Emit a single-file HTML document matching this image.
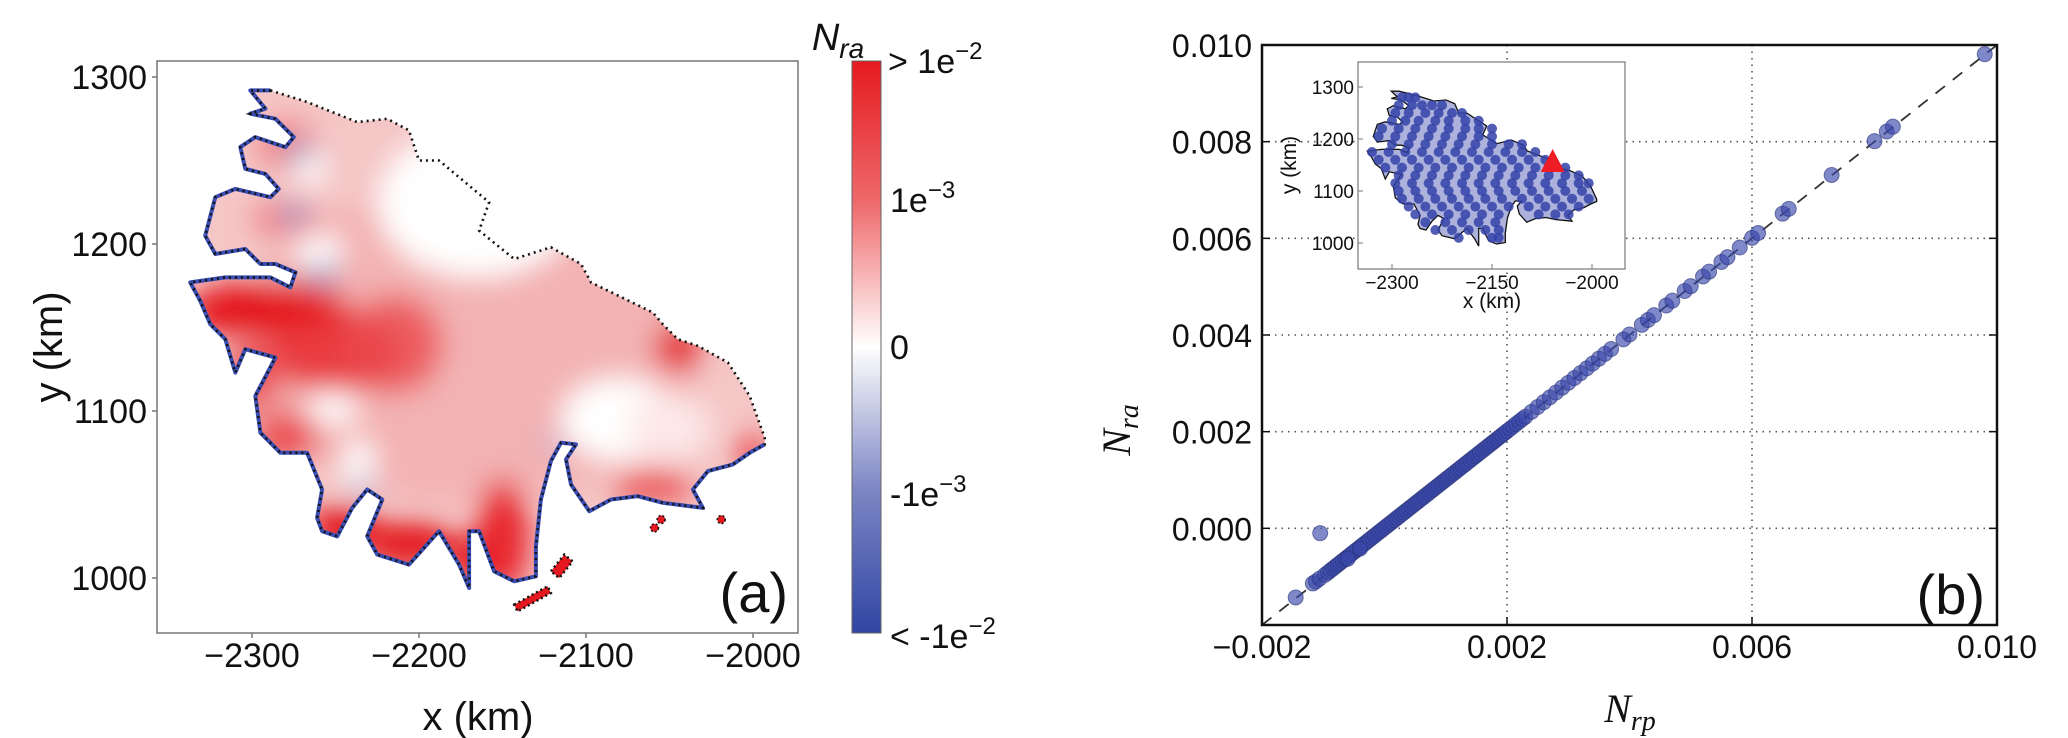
<!DOCTYPE html>
<html><head><meta charset="utf-8"><title>N_ra map and scatter</title>
<style>
html,body{margin:0;padding:0;background:#fff;}
svg{display:block;font-family:"Liberation Sans","DejaVu Sans",sans-serif;}
.tk{font-size:34px;fill:#111;}
.tr{font-size:32px;fill:#111;}
.ti{font-size:19px;fill:#111;}
</style></head>
<body>
<svg id="fig" width="2068" height="738" viewBox="0 0 2068 738" xmlns="http://www.w3.org/2000/svg">
<defs>
 <linearGradient id="cbg" x1="0" y1="0" x2="0" y2="1">
  <stop offset="0" stop-color="#e41a1f"/>
  <stop offset="0.25" stop-color="#ef6b6d"/>
  <stop offset="0.5" stop-color="#ffffff"/>
  <stop offset="0.75" stop-color="#7c86c4"/>
  <stop offset="1" stop-color="#3145a3"/>
 </linearGradient>
 <filter id="blur" x="-50%" y="-50%" width="200%" height="200%"><feGaussianBlur stdDeviation="14"/></filter>
 <clipPath id="mapclip"><polygon id="clipPoly"/></clipPath>
</defs>

<g id="panelA">
 <rect x="157" y="61" width="641" height="572" fill="#fff" stroke="#777" stroke-width="1.5"/>
 <g id="mapFill" clip-path="url(#mapclip)"></g>
 <g id="mapCoast"></g>
 <g id="mapTicks"></g>
 <text x="478" y="730" font-size="40" text-anchor="middle" fill="#111">x (km)</text>
 <text transform="translate(62,347) rotate(-90)" font-size="40" text-anchor="middle" fill="#111">y (km)</text>
 <text x="788" y="612" font-size="56" text-anchor="end" fill="#111">(a)</text>
</g>

<g id="colorbar">
 <rect x="852" y="61" width="29" height="572" fill="url(#cbg)" stroke="#666" stroke-width="1"/>
 <text x="838" y="50" font-size="38" font-style="italic" fill="#111" text-anchor="middle">N<tspan font-size="28" dy="8">ra</tspan></text>
 <text x="888" y="73" font-size="34" fill="#111">&gt; 1e<tspan font-size="24" dy="-14">−2</tspan></text>
 <text x="890" y="212" font-size="34" fill="#111">1e<tspan font-size="24" dy="-14">−3</tspan></text>
 <text x="890" y="359" font-size="34" fill="#111">0</text>
 <text x="890" y="506" font-size="34" fill="#111">-1e<tspan font-size="24" dy="-14">−3</tspan></text>
 <text x="890" y="648" font-size="34" fill="#111">&lt; -1e<tspan font-size="24" dy="-14">−2</tspan></text>
</g>

<g id="panelB">
 <rect x="1262" y="45" width="735" height="580" fill="#fff"/>
 <g id="grid"></g>
 <g id="diag"></g>
 <g id="dots"></g>
 <rect x="1262" y="45" width="735" height="580" fill="none" stroke="#111" stroke-width="2.5"/>
 <g id="ticksB"></g>
 <text transform="translate(1130,430) rotate(-90)" font-family="Liberation Serif, serif" font-style="italic" font-size="40" text-anchor="middle" fill="#111">N<tspan font-size="28" dy="8">ra</tspan></text>
 <text x="1630" y="722" font-family="Liberation Serif, serif" font-style="italic" font-size="40" text-anchor="middle" fill="#111">N<tspan font-size="28" dy="8">rp</tspan></text>
 <text x="1985" y="614" font-size="56" text-anchor="end" fill="#111">(b)</text>
 <g id="inset">
  <rect x="1358" y="62" width="267" height="207" fill="#fff" stroke="#777" stroke-width="1.2"/>
  <g id="insetFill"></g>
  <g id="insetDots"></g>
  <g id="insetTicks"></g>
  <text x="1492" y="308" font-size="21" text-anchor="middle" fill="#111">x (km)</text>
  <text transform="translate(1296,165) rotate(-90)" font-size="21" text-anchor="middle" fill="#111">y (km)</text>
 </g>
</g>
</svg>
<script>
const mapXTicks = [-2300, -2200, -2100, -2000];
const mapYTicks = [1300, 1200, 1100, 1000];
const outline = [[-2289,1292],[-2267,1285],[-2237,1273],[-2219,1275],[-2206,1268],[-2200,1250],[-2188,1250],[-2158,1225],[-2164,1208],[-2143,1191],[-2121,1198],[-2103,1188],[-2097,1177],[-2060,1159],[-2054,1152],[-2045,1143],[-2033,1139],[-2015,1129],[-2002,1109],[-1993,1084],
[-1993,1080],[-2002,1075],[-2012,1068],[-2027,1064],[-2036,1053],[-2030,1042],[-2054,1045],[-2069,1049],[-2085,1047],[-2098,1040],[-2109,1056],[-2112,1071],[-2106,1080],[-2115,1081],[-2121,1070],[-2127,1047],[-2130,1019],[-2130,1001],[-2143,998],[-2155,1004],[-2164,1028],[-2170,1028],[-2170,994],[-2176,1008],[-2188,1028],[-2206,1008],[-2225,1014],[-2231,1025],[-2222,1047],[-2231,1053],[-2240,1042],[-2249,1025],[-2258,1028],[-2261,1036],[-2258,1053],[-2267,1075],[-2283,1075],[-2295,1087],[-2298,1109],[-2286,1132],[-2304,1137],[-2310,1123],[-2316,1143],[-2325,1152],[-2331,1166],[-2337,1177],[-2316,1180],[-2289,1180],[-2277,1174],[-2274,1183],[-2286,1188],[-2295,1188],[-2304,1197],[-2322,1194],[-2328,1205],[-2322,1228],[-2310,1233],[-2289,1228],[-2284,1233],[-2292,1242],[-2304,1245],[-2307,1258],[-2298,1264],[-2280,1258],[-2275,1264],[-2286,1275],[-2301,1278],[-2292,1281],[-2301,1292]];
const coastStart = 20;
const islands = [[[-2143,984],[-2123,995],[-2121,991],[-2141,980]],[[-2121,1004],[-2113,1014],[-2108,1010],[-2116,1000]]];
const redIslets = [[-2059,1030],[-2019,1035],[-2055,1035]];
const blobs = [
 [-2170,1140,140,95,'#f3b2b3',1],
 [-2290,1160,50,18,'#e4181e',1],[-2250,1135,40,25,'#e83035',0.9],[-2215,1140,30,30,'#ea4a4d',0.8],
 [-2300,1120,15,20,'#e83035',0.8],[-2280,1085,20,15,'#e83035',0.8],
 [-2245,1030,22,14,'#e4181e',1],[-2205,1020,28,14,'#e4181e',1],[-2150,1025,16,35,'#e8282d',1],[-2170,1010,10,15,'#e4181e',1],
 [-2045,1138,14,14,'#e4181e',1],[-2060,1055,25,10,'#ea4a4d',0.9],[-2000,1075,12,10,'#e83035',0.8],
 [-2280,1260,18,15,'#f08a8c',1],[-2280,1215,20,12,'#ef7f81',0.9],
 [-2165,1225,60,45,'#ffffff',1],[-2080,1095,35,25,'#ffffff',1],[-2050,1090,25,20,'#fde8e8',1],[-2252,1102,16,10,'#ffffff',1],[-2236,1066,10,18,'#ffffff',1],[-2260,1195,15,10,'#ffffff',1],[-2265,1245,10,10,'#ffffff',1],
 [-2272,1255,8,6,'#8f98cc',1],[-2275,1218,8,7,'#9aa2d0',1],[-2258,1182,10,5,'#7b86c4',1],[-2234,1055,5,6,'#8f98cc',1],[-2120,1081,6,4,'#aab1d8',1]
];
const nrp = [-0.00145,-0.00117,-0.00112,-0.00106,-0.00097,-0.00092,-0.00088,-0.00084,-0.0008,-0.00076,-0.00072,-0.00068,-0.00064,-0.0006,-0.00056,-0.00052,-0.00048,-0.00044,-0.0004,-0.00036,-0.00032,-0.00028,-0.00024,-0.0002,-0.00016,-0.00012,-0.00008,-0.00004,0.0,0.00004,0.00008,0.00012,0.00016,0.0002,0.00024,0.00028,0.00032,0.00036,0.0004,0.00044,0.00048,0.00052,0.00056,0.0006,0.00064,0.00068,0.00072,0.00076,0.0008,0.00084,0.00088,0.00092,0.00096,0.001,0.00104,0.00108,0.00112,0.00116,0.0012,0.00124,0.00128,0.00132,0.00136,0.0014,0.00144,0.00148,0.00152,0.00156,0.0016,0.00164,0.00168,0.00172,0.00176,0.0018,0.00184,0.00188,0.00192,0.00196,0.002,0.00205,0.0021,0.00215,0.0022,0.00225,0.0023,0.0024,0.0025,0.0026,0.0027,0.0028,0.0029,0.003,0.0031,0.0032,0.0033,0.0034,0.0035,0.0036,0.0037,0.0039,0.0040,0.0042,0.0043,0.0044,0.0046,0.0047,0.0049,0.0050,0.0052,0.0053,0.0055,0.0056,0.0058,0.0060,0.0061,0.0065,0.0066,0.0073,0.0080,0.0082,0.0083,0.0098,-0.00105,-0.0006,-0.0004];
const nra = [-0.00143,-0.00114,-0.00110,-0.00104,-0.00096,-0.00091,-0.00087,-0.00083,-0.00079,-0.00075,-0.00071,-0.00067,-0.00063,-0.00059,-0.00055,-0.00051,-0.00047,-0.00043,-0.00039,-0.00035,-0.00031,-0.00027,-0.00023,-0.00019,-0.00015,-0.00011,-0.00007,-0.00003,0.00001,0.00005,0.00009,0.00013,0.00017,0.00021,0.00025,0.00029,0.00033,0.00037,0.00041,0.00045,0.00049,0.00053,0.00057,0.00061,0.00065,0.00069,0.00073,0.00077,0.00081,0.00085,0.00089,0.00093,0.00097,0.00101,0.00105,0.00109,0.00113,0.00117,0.00121,0.00125,0.00129,0.00133,0.00137,0.00141,0.00145,0.00149,0.00153,0.00157,0.00161,0.00165,0.00169,0.00173,0.00177,0.00181,0.00185,0.00189,0.00193,0.00197,0.00201,0.00206,0.00211,0.00216,0.00221,0.00226,0.00231,0.00241,0.00251,0.00261,0.00271,0.00281,0.00291,0.00301,0.00311,0.00321,0.00331,0.00341,0.00351,0.00361,0.00371,0.00391,0.00401,0.00421,0.00431,0.00441,0.00461,0.00471,0.00491,0.00501,0.00521,0.00531,0.00551,0.00561,0.00581,0.00601,0.00611,0.00651,0.00661,0.00731,0.00801,0.00821,0.00831,0.00981,-0.0001,-0.00063,-0.00042];
const xTicksB = [-0.002, 0.002, 0.006, 0.010];
const xTickLabelsB = ['\u22120.002','0.002','0.006','0.010'];
const yTicksB = [0.000, 0.002, 0.004, 0.006, 0.008, 0.010];
const yTickLabelsB = ['0.000','0.002','0.004','0.006','0.008','0.010'];
const insetXTicks = [-2300, -2150, -2000];
const insetYTicks = [1300, 1200, 1100, 1000];
const insetRows = [
 [1280,[-2285,-2275,-2265]],
 [1265,[-2290,-2270,-2255,-2240,-2225]],
 [1250,[-2295,-2275,-2250,-2230,-2210,-2195]],
 [1235,[-2300,-2280,-2260,-2235,-2215,-2190,-2170]],
 [1220,[-2315,-2290,-2265,-2240,-2215,-2190,-2170,-2150]],
 [1205,[-2320,-2295,-2270,-2245,-2220,-2195,-2170,-2150]],
 [1190,[-2300,-2275,-2250,-2225,-2200,-2175,-2150,-2125,-2105]],
 [1175,[-2330,-2305,-2280,-2255,-2230,-2205,-2180,-2155,-2130,-2105,-2085]],
 [1160,[-2320,-2295,-2270,-2245,-2220,-2195,-2170,-2145,-2120,-2095,-2070]],
 [1145,[-2310,-2285,-2260,-2235,-2210,-2185,-2160,-2135,-2110,-2085,-2060,-2040]],
 [1130,[-2290,-2265,-2240,-2215,-2190,-2165,-2140,-2115,-2090,-2065,-2040,-2020]],
 [1115,[-2295,-2270,-2245,-2220,-2195,-2170,-2145,-2120,-2095,-2070,-2045,-2020,-2005]],
 [1100,[-2290,-2265,-2240,-2215,-2190,-2165,-2140,-2115,-2090,-2065,-2040,-2015]],
 [1085,[-2285,-2260,-2235,-2210,-2185,-2160,-2135,-2105,-2080,-2055,-2030,-2005]],
 [1070,[-2275,-2250,-2225,-2200,-2175,-2150,-2125,-2095,-2070,-2045,-2020]],
 [1055,[-2265,-2240,-2215,-2190,-2165,-2140,-2080,-2055,-2035]],
 [1040,[-2250,-2220,-2195,-2170,-2145]],
 [1025,[-2235,-2210,-2185,-2160,-2140]],
 [1010,[-2200,-2150,-2140]]
];
const triangle = [-2059, 1150];

const NS = 'http://www.w3.org/2000/svg';
const mx = x => 252 + (x + 2300) * 1.67;
const my = y => 77 + (1300 - y) * 1.67;
const bx = v => 1262 + (v + 0.002) * 61250;
const by = v => 625 - (v + 0.002) * 48333;
const ix = x => 1392 + (x + 2300) * 0.6667;
const iy = y => 87 + (1300 - y) * 0.52;
function mk(tag, attrs, parent) {
  const e = document.createElementNS(NS, tag);
  for (const k in attrs) e.setAttribute(k, attrs[k]);
  parent.appendChild(e);
  return e;
}
const $ = id => document.getElementById(id);
const ptsStr = (arr, fx, fy) => arr.map(p => fx(p[0]).toFixed(1) + ',' + fy(p[1]).toFixed(1)).join(' ');

$('clipPoly').setAttribute('points', ptsStr(outline, mx, my));
const mf = $('mapFill');
const base = mk('polygon', {points: ptsStr(outline, mx, my), fill: '#f5c6c6'}, mf);


const bg = mk('g', {filter: 'url(#blur)'}, mf);
blobs.forEach(b => {
  const e = mk('ellipse', {cx: mx(b[0]), cy: my(b[1]), rx: b[2] * 1.67, ry: b[3] * 1.67, fill: b[4], opacity: b[5]}, bg);
  
  
});
const mc = $('mapCoast');
const coast = outline.slice(coastStart).concat([outline[0]]);
const bl = mk('polyline', {points: ptsStr(coast, mx, my), fill: 'none', stroke: '#3a4db0', 'stroke-width': 4, 'stroke-linejoin': 'round'}, mc);


const dl = mk('polygon', {points: ptsStr(outline, mx, my), fill: 'none', stroke: '#111', 'stroke-width': 2.6, 'stroke-dasharray': '2 4'}, mc);


islands.forEach(isl => {
  const p = mk('polygon', {points: ptsStr(isl, mx, my), fill: '#e4181e', stroke: '#111', 'stroke-width': 2.5, 'stroke-dasharray': '2 3'}, mc);
  
  
});
redIslets.forEach(p => {
  const c = mk('circle', {cx: mx(p[0]), cy: my(p[1]), r: 4, fill: '#e4181e', stroke: '#111', 'stroke-width': 1.5, 'stroke-dasharray': '2 2'}, mc);
  
  
});
const mt = $('mapTicks');
mapXTicks.forEach(v => {
  mk('line', {x1: mx(v), x2: mx(v), y1: 633, y2: 638, stroke: '#777', 'stroke-width': 1.5}, mt);
  const t = mk('text', {x: mx(v), y: 667, 'text-anchor': 'middle', class: 'tk'}, mt);
  t.textContent = (v < 0 ? '\u2212' : '') + Math.abs(v);
  
  
});
mapYTicks.forEach(v => {
  mk('line', {x1: 152, x2: 157, y1: my(v), y2: my(v), stroke: '#777', 'stroke-width': 1.5}, mt);
  const t = mk('text', {x: 147, y: my(v) + 12, 'text-anchor': 'end', class: 'tk'}, mt);
  t.textContent = String(v);
  
  
});

const g = $('grid');
[0.002, 0.006].forEach(v => {
  const l = mk('line', {x1: bx(v), x2: bx(v), y1: 45, y2: 625, stroke: '#555', 'stroke-width': 1.6, 'stroke-dasharray': '1.5 5'}, g);
  
  
});
[0.000, 0.002, 0.004, 0.006, 0.008].forEach(v => {
  const l = mk('line', {x1: 1262, x2: 1997, y1: by(v), y2: by(v), stroke: '#555', 'stroke-width': 1.6, 'stroke-dasharray': '1.5 5'}, g);
  
  
});
const dg = mk('line', {x1: bx(-0.002), y1: by(-0.002), x2: bx(0.010), y2: by(0.010), stroke: '#333', 'stroke-width': 1.8, 'stroke-dasharray': '12 10'}, $('diag'));


const dots = $('dots');
nrp.forEach((v, i) => {
  const c = mk('circle', {cx: bx(v), cy: by(nra[i]), r: 7.5, fill: 'rgba(58,72,170,0.65)', stroke: 'rgba(40,50,120,0.6)', 'stroke-width': 1}, dots);
  
  
});
const tb = $('ticksB');
xTicksB.forEach((v, i) => {
  mk('line', {x1: bx(v), x2: bx(v), y1: 625, y2: 617, stroke: '#111', 'stroke-width': 1.5}, tb);
  const t = mk('text', {x: bx(v), y: 658, 'text-anchor': 'middle', class: 'tr'}, tb);
  t.textContent = xTickLabelsB[i];
  
  
});
yTicksB.forEach((v, i) => {
  mk('line', {x1: 1262, x2: 1270, y1: by(v), y2: by(v), stroke: '#111', 'stroke-width': 1.5}, tb);
  mk('line', {x1: 1989, x2: 1997, y1: by(v), y2: by(v), stroke: '#111', 'stroke-width': 1.5}, tb);
  const t = mk('text', {x: 1252, y: by(v) + 12, 'text-anchor': 'end', class: 'tr'}, tb);
  t.textContent = yTickLabelsB[i];
  
  
});

const inf = $('insetFill');
const ip = mk('polygon', {points: ptsStr(outline, ix, iy), fill: 'rgba(70,85,175,0.45)', stroke: '#111', 'stroke-width': 1.3}, inf);


const idt = $('insetDots');
insetRows.forEach(row => {
  row[1].forEach(x => {
    const c = mk('circle', {cx: ix(x), cy: iy(row[0]), r: 5, fill: 'rgba(52,66,168,0.85)'}, idt);
    
    
  });
});
const tx = ix(triangle[0]), ty = iy(triangle[1]);
const tri = mk('polygon', {points: `${tx},${ty-16} ${tx-12},${ty+7} ${tx+12},${ty+7}`, fill: '#ee1c24'}, idt);


const it = $('insetTicks');
insetXTicks.forEach(v => {
  mk('line', {x1: ix(v), x2: ix(v), y1: 269, y2: 264, stroke: '#777', 'stroke-width': 1}, it);
  const t = mk('text', {x: ix(v), y: 289, 'text-anchor': 'middle', class: 'ti'}, it);
  t.textContent = '\u2212' + Math.abs(v);
  
  
});
insetYTicks.forEach(v => {
  mk('line', {x1: 1358, x2: 1363, y1: iy(v), y2: iy(v), stroke: '#777', 'stroke-width': 1}, it);
  const t = mk('text', {x: 1354, y: iy(v) + 7, 'text-anchor': 'end', class: 'ti'}, it);
  t.textContent = String(v);
  
  
});
</script>
</body></html>
